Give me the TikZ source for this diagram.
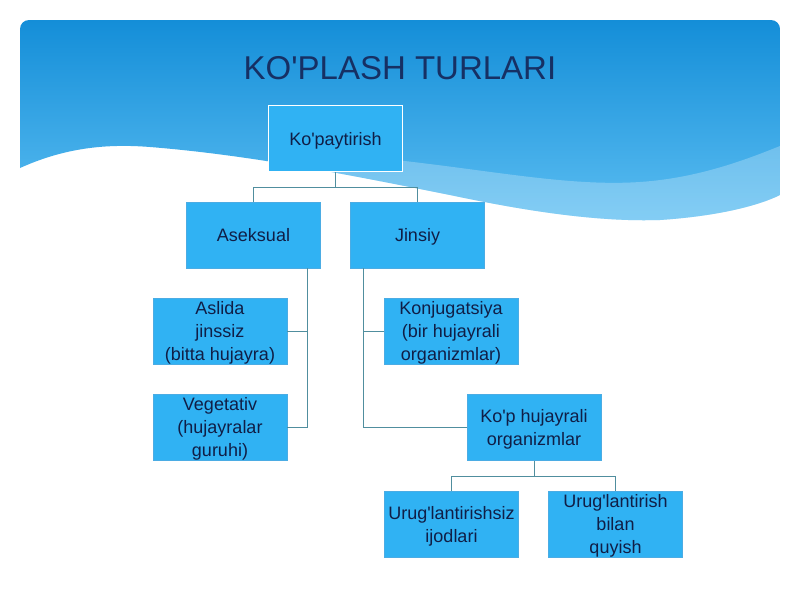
\documentclass[tikz,border=0pt]{standalone}
\usepackage{fontspec}
\setmainfont{Liberation Sans}
\usetikzlibrary{calc}
\newcommand\aps{\textquotesingle}
\definecolor{boxblue}{RGB}{48,178,243}
\definecolor{boxedge}{RGB}{75,172,228}
\definecolor{navy}{RGB}{16,30,70}
\definecolor{titlecol}{RGB}{22,48,100}
\definecolor{linecol}{RGB}{80,142,158}
\definecolor{topblue}{RGB}{20,142,216}
\definecolor{lowblue}{RGB}{92,190,242}
\begin{document}
\begin{tikzpicture}[x=1pt,y=-1pt,
  box/.style={rectangle, fill=boxblue, draw=boxedge, line width=0.6pt,
    minimum width=134pt, minimum height=66pt, inner sep=0pt, align=center,
    text depth=0pt, text=navy, font=\fontsize{18}{23}\selectfont},
  topbox/.style={box, draw=white, line width=1.2pt},
  conn/.style={draw=linecol, line width=1pt}]
\fill[white] (0,0) rectangle (800,600);
\useasboundingbox (0,0) rectangle (800,600);
% header band
\begin{scope}
\clip[rounded corners=9pt] (20,120) -- (20,20) -- (780,20) -- (780,120) [sharp corners] -- (780,195)
  .. controls (760,205) and (720,216) .. (660,220)
  .. controls (600,222) and (530,212) .. (450,195)
  .. controls (350,175) and (250,155) .. (150,147)
  .. controls (100,143) and (60,150) .. (20,168) -- cycle;
\shade[top color=topblue, bottom color=lowblue] (20,20) rectangle (780,225);
\fill[white, opacity=0.25] (300,152) .. controls (450,160) and (550,188) .. (640,182)
  .. controls (700,178) and (750,158) .. (780,146) -- (780,230) -- (300,230) -- cycle;
\end{scope}
% title
\node[text=titlecol, font=\fontsize{33}{38}\selectfont] (title) at (400,68) {KO\aps PLASH TURLARI};
% boxes
\node[topbox] (kop) at (335.5,138.5) {Ko\aps paytirish};
\node[box] (ase) at (253.5,235) {Aseksual};
\node[box] (jin) at (417.5,235) {Jinsiy};
\node[box] (asl) at (220,331) {Aslida\\jinssiz\\(bitta hujayra)};
\node[box] (veg) at (220,427) {Vegetativ\\(hujayralar\\guruhi)};
\node[box] (konj) at (451,331) {Konjugatsiya\\(bir hujayrali\\organizmlar)};
\node[box] (kph) at (534,427.5) {Ko\aps p hujayrali\\organizmlar};
\node[box] (u1) at (451.5,524) {Urug\aps lantirishsiz\\ijodlari};
\node[box] (u2) at (615.5,524) {Urug\aps lantirish\\bilan\\quyish};
% connectors
\draw[conn] (kop.south) -- ++(0,15) coordinate (j1);
\draw[conn] (ase.north) |- (j1) -| (jin.north);
\coordinate (a1) at ($(ase.south)+(54,0)$);
\draw[conn] (a1) |- (veg.east);
\draw[conn] (asl.east) -- (asl.east -| a1);
\coordinate (b1) at ($(jin.south)+(-54,0)$);
\draw[conn] (b1) |- (kph.west);
\draw[conn] (konj.west) -- (konj.west -| b1);
\draw[conn] (kph.south) -- ++(0,16) coordinate (c1);
\draw[conn] (u1.north) |- (c1) -| (u2.north);
\end{tikzpicture}
\end{document}
